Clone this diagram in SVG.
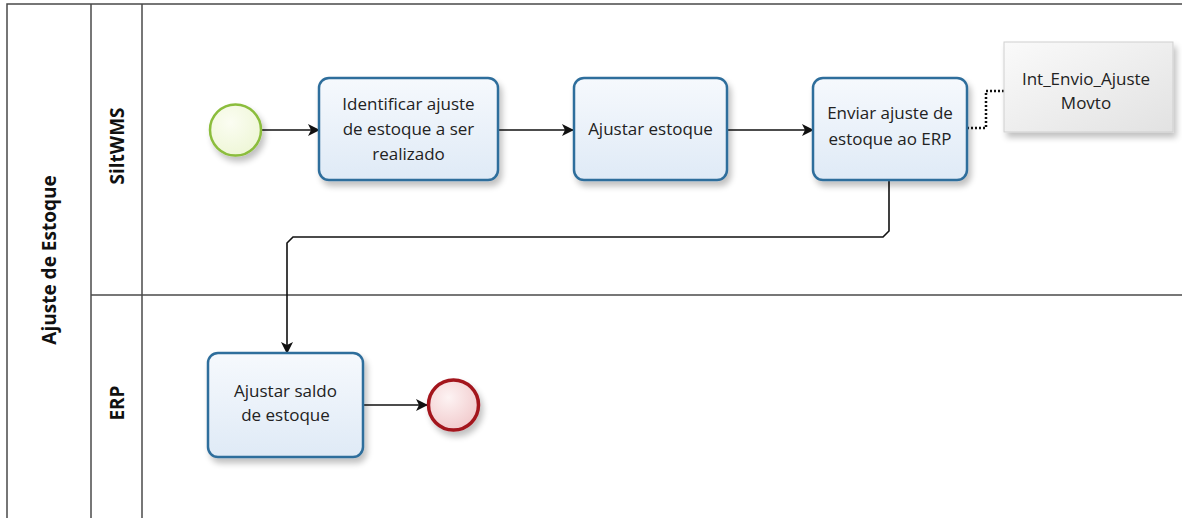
<svg xmlns="http://www.w3.org/2000/svg" width="1182" height="518" viewBox="0 0 1182 518">
<style>
.ln{stroke:#4a4a4a;stroke-width:1.5;fill:none}
.task{fill:url(#tg);stroke:#2f6e9c;stroke-width:2.5}
.tt{font-family:"Open Sans","Liberation Sans",sans-serif;font-size:17px;fill:#222;text-anchor:middle}
.lbl{font-family:"Open Sans","Liberation Sans",sans-serif;font-size:19px;font-weight:bold;fill:#111;text-anchor:middle}
.flow{stroke:#111;stroke-width:1.6;fill:none}
</style>
<defs>
<linearGradient id="tg" x1="0" y1="0" x2="0" y2="1"><stop offset="0" stop-color="#f6f9fd"/><stop offset="1" stop-color="#dfeaf6"/></linearGradient>
<linearGradient id="dg" x1="0" y1="0" x2="1" y2="1"><stop offset="0" stop-color="#fafafa"/><stop offset="1" stop-color="#e2e2e2"/></linearGradient>
<radialGradient id="eg" cx="0.4" cy="0.35" r="0.7"><stop offset="0" stop-color="#fdf3f3"/><stop offset="1" stop-color="#f1c9cb"/></radialGradient>
<radialGradient id="sg" cx="0.4" cy="0.35" r="0.7"><stop offset="0" stop-color="#fbfdf2"/><stop offset="1" stop-color="#eef6d6"/></radialGradient>
<filter id="sh" x="-20%" y="-20%" width="150%" height="160%"><feGaussianBlur in="SourceAlpha" stdDeviation="3"/><feOffset dx="3" dy="5"/><feComponentTransfer><feFuncA type="linear" slope="0.25"/></feComponentTransfer><feMerge><feMergeNode/><feMergeNode in="SourceGraphic"/></feMerge></filter>
<marker id="ah" viewBox="0 0 12 12" refX="11" refY="6" markerWidth="12" markerHeight="12" markerUnits="userSpaceOnUse" orient="auto"><path d="M0,0 L12,6 L0,12 L3,6 z" fill="#111"/></marker>
</defs>
<rect width="1182" height="518" fill="#fff"/>
<g id="pool">
<path class="ln" d="M1182,4 H7 V520"/>
<path class="ln" d="M91,4 V520"/>
<path class="ln" d="M142,4 V520"/>
<path class="ln" d="M91,295 H1182"/>
<text class="lbl" transform="translate(56,260) rotate(-90)">Ajuste de Estoque</text>
<text class="lbl" transform="translate(124,146) rotate(-90)">SiltWMS</text>
<text class="lbl" transform="translate(124,403) rotate(-90)">ERP</text>
</g>
<g id="connectors">
<line class="flow" x1="262" y1="130" x2="319" y2="130" marker-end="url(#ah)"/>
<line class="flow" x1="498" y1="130" x2="573" y2="130" marker-end="url(#ah)"/>
<line class="flow" x1="727" y1="130" x2="813" y2="130" marker-end="url(#ah)"/>
<path class="flow" d="M889,180 V231 L883,237 H293 L287,243 V353" marker-end="url(#ah)"/>
<line class="flow" x1="363" y1="405" x2="427" y2="405" marker-end="url(#ah)"/>
<path d="M967,128 H986 V91 H1004" fill="none" stroke="#111" stroke-width="2.5" stroke-dasharray="2,2"/>
</g>
<g id="start"><circle cx="235.5" cy="130" r="25.5" fill="url(#sg)" stroke="#8bbd3c" stroke-width="2.5" filter="url(#sh)"/></g>
<g id="task1"><rect class="task" x="319" y="78" width="179" height="102" rx="10" filter="url(#sh)"/>
<text class="tt" x="408.5" y="110">Identificar ajuste</text><text class="tt" x="408.5" y="135">de estoque a ser</text><text class="tt" x="408.5" y="160">realizado</text></g>
<g id="task2"><rect class="task" x="574" y="78" width="153" height="102" rx="10" filter="url(#sh)"/>
<text class="tt" x="650.5" y="135">Ajustar estoque</text></g>
<g id="task3"><rect class="task" x="813" y="78" width="154" height="102" rx="10" filter="url(#sh)"/>
<text class="tt" x="890" y="119">Enviar ajuste de</text><text class="tt" x="890" y="145">estoque ao ERP</text></g>
<g id="data"><rect x="1004" y="42" width="169" height="90" fill="url(#dg)" stroke="#cfcfcf" stroke-width="1" filter="url(#sh)"/>
<text class="tt" x="1086" y="85">Int_Envio_Ajuste</text><text class="tt" x="1086" y="109">Movto</text></g>
<g id="task4"><rect class="task" x="208" y="353" width="155" height="104" rx="10" filter="url(#sh)"/>
<text class="tt" x="285.5" y="397">Ajustar saldo</text><text class="tt" x="285.5" y="421">de estoque</text></g>
<g id="end"><circle cx="453.5" cy="405" r="25" fill="url(#eg)" stroke="#a3151f" stroke-width="3.5" filter="url(#sh)"/></g>
</svg>
